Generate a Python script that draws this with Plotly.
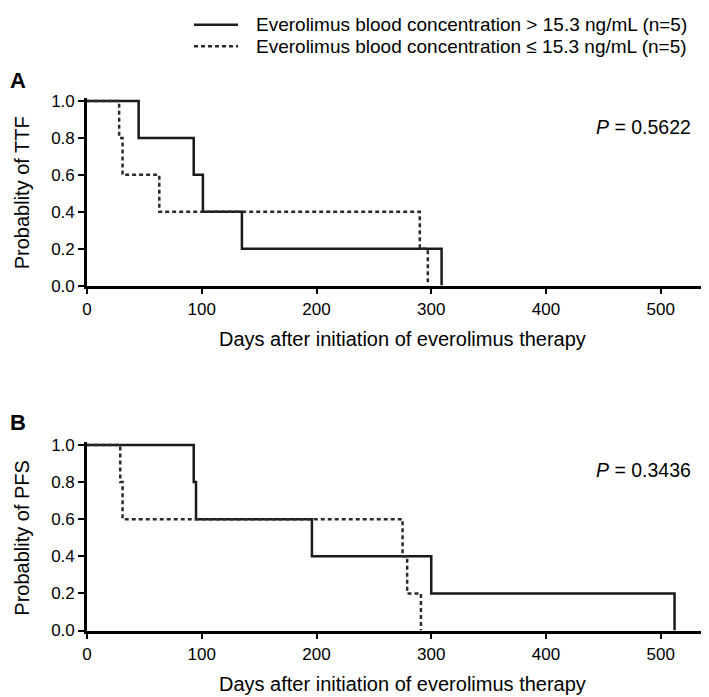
import plotly.graph_objects as go

# ---- data (Kaplan-Meier step points) ----
# Panel A: time to treatment failure
a_high_days = [0, 45, 93, 101, 135, 309]
a_high_surv = [1.0, 0.8, 0.6, 0.4, 0.2, 0.0]
a_low_days = [0, 28, 31, 63, 290, 297]
a_low_surv = [1.0, 0.8, 0.6, 0.4, 0.2, 0.0]
# Panel B: progression-free survival
b_high_days = [0, 93, 95, 196, 300, 512]
b_high_surv = [1.0, 0.8, 0.6, 0.4, 0.2, 0.0]
b_low_days = [0, 29, 31, 275, 279, 291]
b_low_surv = [1.0, 0.8, 0.6, 0.4, 0.2, 0.0]

p_values = ["0.5622", "0.3436"]
y_titles = ["Probablity of TTF", "Probablity of PFS"]
x_title = "Days after initiation of everolimus therapy"
panel_labels = ["A", "B"]
legend_names = ["Everolimus blood concentration > 15.3 ng/mL (n=5)",
                "Everolimus blood concentration \u2264 15.3 ng/mL (n=5)"]
x_ticks = [0, 100, 200, 300, 400, 500]
y_ticks = [0.0, 0.2, 0.4, 0.6, 0.8, 1.0]

W, H = 709, 697
L = 79
FONT = "Liberation Sans, Arial, sans-serif"
YTOP = 1.016  # small headroom so the 1.0 lines are not clipped


def km_xy(days, surv):
    xs, ys = [days[0]], [surv[0]]
    for i in range(1, len(days)):
        xs += [days[i], days[i]]
        ys += [surv[i - 1], surv[i]]
    return xs, ys


def py(px):
    return 1 - px / H


def pxx(px):
    return (px - L) / (W - L)


fig = go.Figure()
solid = dict(color="#1a1a1a", width=2.5)
dotted = dict(color="#2a2a2a", width=2.5, dash="4px,3px")

panels = [(a_high_days, a_high_surv, a_low_days, a_low_surv, "x", "y"),
          (b_high_days, b_high_surv, b_low_days, b_low_surv, "x2", "y2")]
for i, (hd, hs, ld, ls, xa, ya) in enumerate(panels):
    x1, y1 = km_xy(hd, hs)
    x2, y2 = km_xy(ld, ls)
    fig.add_trace(go.Scatter(x=x1, y=y1, mode="lines", line=solid, xaxis=xa, yaxis=ya,
                             name=legend_names[0], showlegend=False, cliponaxis=False))
    fig.add_trace(go.Scatter(x=x2, y=y2, mode="lines", line=dotted, xaxis=xa, yaxis=ya,
                             name=legend_names[1], showlegend=False, cliponaxis=False))


def dom(top_px, bot_px):
    h = bot_px - top_px
    return [py(bot_px), py(top_px - (YTOP - 1) * h)]


dom_a = dom(89, 278)
dom_b = dom(441, 631)

axis_common = dict(showline=True, linecolor="black", linewidth=2.6, ticks="outside",
                   ticklen=6, tickwidth=2, tickcolor="black", showgrid=False, zeroline=False,
                   tickfont=dict(family=FONT, size=17, color="black"))

fig.update_layout(
    width=W, height=H,
    margin=dict(l=L, r=0, t=0, b=0),
    plot_bgcolor="white", paper_bgcolor="white",
    font=dict(family=FONT, color="black"),
    showlegend=False,
    xaxis=dict(domain=[0, 1], range=[0, 549], tickvals=x_ticks, anchor="y", **axis_common),
    yaxis=dict(domain=dom_a, range=[0, YTOP], tickvals=y_ticks, tickformat=".1f", anchor="x", **axis_common),
    xaxis2=dict(domain=[0, 1], range=[0, 549], tickvals=x_ticks, anchor="y2", **axis_common),
    yaxis2=dict(domain=dom_b, range=[0, YTOP], tickvals=y_ticks, tickformat=".1f", anchor="x2", **axis_common),
)

ann = []
shapes = []
# legend (line samples + labels)
for yc, name, st in zip([11, 33], legend_names, [solid, dotted]):
    shapes.append(dict(type="line", xref="paper", yref="paper", x0=pxx(186), x1=pxx(230),
                       y0=py(yc), y1=py(yc), line=st))
    ann.append(dict(x=pxx(246), xref="paper", y=py(yc), yref="paper", text=name, showarrow=False,
                    font=dict(size=19), xanchor="left", yanchor="middle"))
# x titles
for yc in [333, 686]:
    ann.append(dict(x=0.5, xref="paper", y=py(yc), yref="paper", text=x_title, showarrow=False,
                    font=dict(size=20), xanchor="center", yanchor="middle"))
# y titles
for (lo, hi), t in zip([(89, 278), (441, 631)], y_titles):
    ann.append(dict(x=pxx(14), xref="paper", y=py((lo + hi) / 2), yref="paper", text=t,
                    showarrow=False, textangle=-90, font=dict(size=20),
                    xanchor="center", yanchor="middle"))
# panel labels
for yc, lab in zip([68, 418], panel_labels):
    ann.append(dict(x=pxx(10), xref="paper", y=py(yc), yref="paper",
                    text="<b>" + lab + "</b>", showarrow=False, font=dict(size=22),
                    xanchor="center", yanchor="middle"))
# p values
for yc, p in zip([116, 467], p_values):
    ann.append(dict(x=pxx(685), xref="paper", y=py(yc), yref="paper",
                    text="<i>P</i> = " + p, showarrow=False, font=dict(size=19.5),
                    xanchor="right", yanchor="middle"))
fig.update_layout(annotations=ann, shapes=shapes)

fig.write_html("out.html")
